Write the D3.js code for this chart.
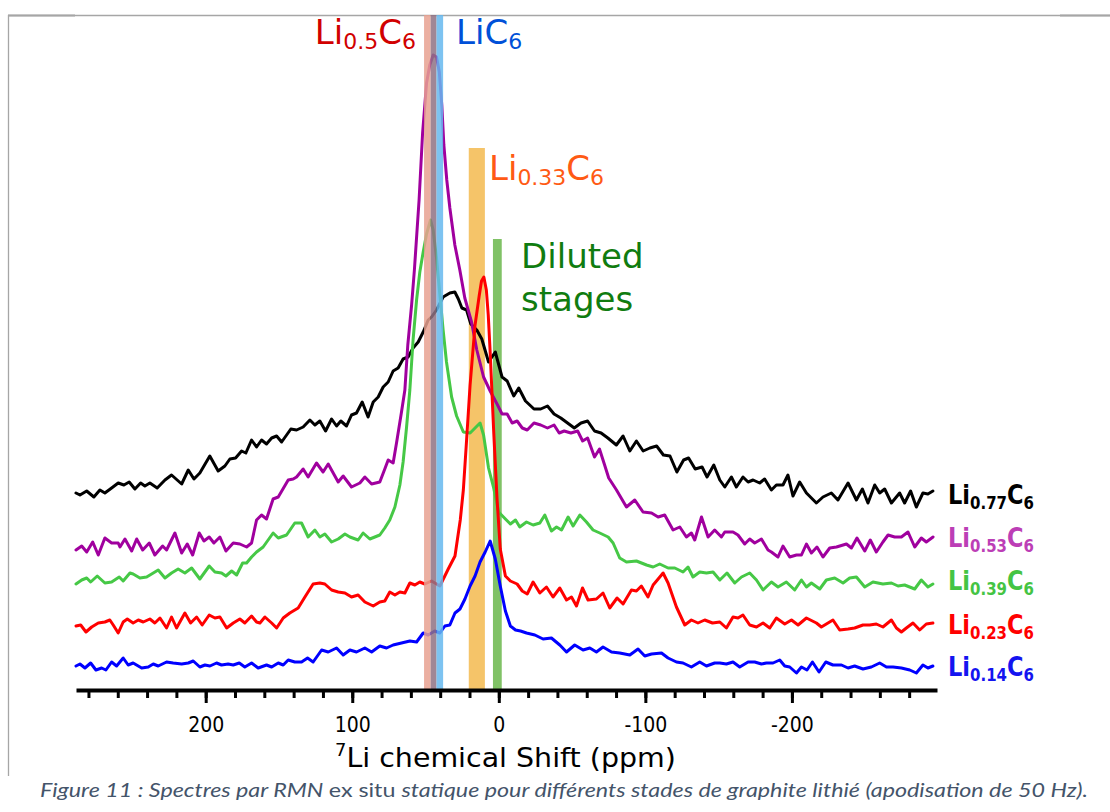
<!DOCTYPE html>
<html><head><meta charset="utf-8">
<script src="https://cdn.jsdelivr.net/npm/d3@7"></script>
<style>body{margin:0;background:#fff}svg{display:block}</style>
</head><body>
<svg id="chart" width="1110" height="812"></svg>
<script>
// ---------------- data ----------------
const shiftDomain = [288.5, -299];          // ppm, left to right
const intensityDomain = [0, 650];           // arbitrary units (stacked)
const minorTickValues = d3.range(280, -281, -20);
const majorTickValues = [200, 100, 0, -100, -200];

const seriesNames = ["Li0.77C6", "Li0.53C6", "Li0.39C6", "Li0.23C6", "Li0.14C6"];
const labelParts = [
  [["Li",0],["0.77",1],["C",0],["6",1]],
  [["Li",0],["0.53",1],["C",0],["6",1]],
  [["Li",0],["0.39",1],["C",0],["6",1]],
  [["Li",0],["0.23",1],["C",0],["6",1]],
  [["Li",0],["0.14",1],["C",0],["6",1]]
];

// [shift ppm, intensity]
const li077 = [[288.5,197],[285.8,195],[281.2,199],[276.3,193],[272.2,200],[268.8,197],[264.2,202],[259.7,207],[255.8,205],[252.2,208],[248.3,201],[244.4,207],[241.5,204],[238.1,207],[233.1,202],[227.8,210],[223.3,215],[216.4,206],[211.9,220],[208.0,211],[204.0,217],[197.2,234],[191.5,219],[186.9,224],[183.5,231],[179.6,232],[175.5,239],[172.6,237],[168.7,250],[165.3,243],[161.9,250],[158.5,246],[155.0,252],[151.6,254],[148.2,248],[144.8,255],[141.9,261],[138.0,260],[133.5,263],[128.9,270],[125.5,265],[122.1,269],[118.2,259],[114.1,271],[110.7,264],[107.8,269],[103.9,264],[100.5,275],[97.1,277],[93.2,288],[89.2,273],[85.7,288],[82.3,293],[78.9,303],[75.5,308],[72.1,319],[68.7,322],[65.3,331],[61.9,333],[58.5,342],[55.0,348],[51.6,358],[48.2,370],[45.9,373],[42.5,380],[38.0,393],[33.4,397],[30.0,398],[27.6,391],[25.2,382],[22.0,380],[19.1,366],[15.0,360],[11.6,351],[7.0,328],[2.4,338],[-2.2,313],[-5.7,309],[-10.2,294],[-13.6,302],[-18.2,289],[-24.0,281],[-28.6,281],[-33.2,284],[-37.7,276],[-42.3,272],[-46.9,267],[-51.5,262],[-56.1,267],[-60.6,269],[-65.3,259],[-69.8,257],[-74.4,252],[-80.2,245],[-84.8,254],[-89.4,239],[-93.9,249],[-98.5,239],[-103.1,242],[-107.7,244],[-112.3,235],[-116.8,234],[-121.5,218],[-126.1,230],[-129.5,232],[-134.0,221],[-138.7,223],[-142.1,213],[-146.7,225],[-150.8,210],[-154.2,203],[-158.7,213],[-162.1,203],[-166.6,213],[-170.1,208],[-173.5,210],[-178.0,207],[-181.4,211],[-186.0,200],[-189.4,205],[-193.9,205],[-197.3,215],[-200.7,194],[-205.3,208],[-209.9,197],[-216.7,187],[-221.2,193],[-226.9,197],[-231.4,190],[-238.3,207],[-244.0,190],[-248.1,201],[-251.9,187],[-256.5,205],[-259.9,197],[-263.3,201],[-267.9,187],[-273.5,197],[-276.9,187],[-281.0,199],[-284.9,183],[-289.4,197],[-292.8,196],[-296.2,199]];

const li053 = [[288.5,140],[284.6,144],[281.2,138],[277.1,148],[273.3,135],[268.8,152],[264.2,147],[259.7,147],[258.5,143],[255.1,151],[250.5,139],[247.1,151],[243.0,140],[238.5,147],[234.7,135],[229.4,144],[226.7,140],[221.0,157],[216.4,137],[212.6,146],[208.9,135],[204.4,157],[201.2,149],[197.6,153],[194.4,147],[190.3,153],[186.2,139],[181.2,147],[176.7,146],[172.1,143],[168.7,147],[165.3,170],[161.9,175],[158.5,171],[154.0,191],[150.5,193],[143.7,210],[140.3,211],[138.0,213],[133.5,221],[130.1,213],[124.4,227],[119.9,218],[116.4,226],[109.6,208],[106.2,214],[100.5,203],[94.8,207],[91.4,213],[86.8,206],[81.2,208],[77.8,221],[75.5,230],[72.1,227],[69.8,247],[66.4,278],[64.1,300],[62.1,345],[59.5,385],[57.6,420],[54.4,490],[52.0,557],[49.3,607],[47.1,625],[44.8,635],[42.5,633],[40.6,618],[38.9,585],[37.5,545],[35.5,510],[33.4,482],[30.0,445],[26.6,420],[23.2,392],[18.6,368],[15.0,340],[10.4,313],[5.9,299],[1.2,286],[-2.2,276],[-5.7,276],[-9.1,267],[-12.5,269],[-16.0,262],[-19.4,260],[-24.0,267],[-28.6,265],[-33.2,262],[-37.7,265],[-41.2,257],[-44.6,259],[-49.2,257],[-53.8,259],[-57.2,249],[-60.6,252],[-65.3,233],[-68.7,241],[-72.2,225],[-75.0,212],[-80.3,200],[-87.1,183],[-92.8,190],[-98.4,178],[-104.2,177],[-108.7,173],[-113.2,175],[-118.9,160],[-123.5,163],[-128.0,153],[-131.4,157],[-133.7,150],[-138.3,173],[-142.8,153],[-147.3,160],[-151.9,153],[-154.2,158],[-159.8,158],[-163.2,155],[-167.8,146],[-171.2,151],[-174.6,147],[-179.2,151],[-183.7,140],[-186.0,138],[-190.5,133],[-193.9,144],[-198.5,133],[-203.1,135],[-206.5,135],[-209.9,146],[-213.3,137],[-217.1,143],[-221.2,133],[-225.8,142],[-230.4,143],[-237.2,146],[-240.6,142],[-244.4,152],[-249.7,139],[-253.5,150],[-257.6,138],[-262.1,148],[-265.6,155],[-270.1,153],[-274.7,153],[-279.2,158],[-283.8,143],[-288.3,152],[-291.7,148],[-296.3,153]];

const li039 = [[288.5,106],[284.6,110],[281.2,112],[278.5,108],[274.0,114],[268.8,107],[264.2,108],[259.0,113],[256.3,109],[251.7,117],[249.5,116],[244.9,112],[240.3,113],[236.9,116],[232.4,120],[227.8,112],[223.3,117],[218.8,121],[214.2,117],[209.6,122],[204.0,111],[197.6,124],[193.7,118],[189.2,117],[186.2,114],[182.3,119],[178.9,115],[174.8,127],[172.1,127],[168.7,133],[165.3,138],[160.8,143],[154.0,157],[150.5,152],[144.8,155],[139.2,167],[134.6,167],[130.1,153],[125.5,160],[122.1,153],[118.7,156],[114.1,148],[109.6,151],[105.0,156],[101.6,153],[96.0,150],[92.6,157],[88.0,151],[81.2,155],[77.8,162],[74.4,170],[70.9,183],[67.5,205],[65.3,228],[63.0,262],[60.7,300],[58.5,350],[56.1,390],[53.9,418],[51.6,438],[49.3,456],[46.6,470],[44.8,460],[42.5,432],[40.2,395],[38.0,360],[35.7,328],[32.2,293],[28.8,274],[24.2,258],[19.6,257],[16.2,262],[12.8,267],[10.4,255],[7.0,222],[3.5,202],[0.1,178],[-4.5,171],[-7.9,166],[-11.4,170],[-14.3,163],[-18.9,168],[-23.4,165],[-28.0,167],[-31.4,175],[-35.9,159],[-39.4,163],[-42.8,160],[-47.3,173],[-50.7,164],[-55.3,175],[-59.8,168],[-64.3,160],[-68.9,157],[-74.6,153],[-78.0,147],[-82.5,132],[-87.1,128],[-93.9,129],[-100.8,125],[-105.3,123],[-109.8,126],[-115.5,122],[-120.1,122],[-125.7,118],[-129.1,123],[-132.5,113],[-137.1,118],[-141.7,117],[-146.2,118],[-150.8,110],[-155.7,117],[-161.0,107],[-165.6,113],[-171.2,117],[-175.8,110],[-180.3,100],[-186.0,108],[-190.5,103],[-196.2,108],[-201.9,100],[-206.5,110],[-209.9,103],[-213.3,107],[-219.0,101],[-223.5,110],[-229.2,112],[-234.9,107],[-239.4,112],[-244.0,113],[-249.7,103],[-255.3,108],[-262.1,106],[-267.9,107],[-272.4,104],[-276.9,105],[-283.8,101],[-288.3,110],[-292.8,103],[-296.2,106]];

const li023 = [[288.5,64],[285.3,65],[281.7,58],[277.8,63],[273.3,67],[268.8,68],[265.4,70],[263.1,65],[259.7,57],[256.3,68],[253.5,71],[249.5,67],[246.0,70],[242.6,68],[238.1,71],[234.7,67],[231.2,72],[226.7,62],[223.3,73],[219.9,62],[214.2,77],[210.3,67],[206.2,73],[202.4,65],[197.6,75],[193.7,72],[190.3,73],[185.7,62],[181.2,67],[176.7,71],[173.3,67],[168.7,74],[165.3,68],[163.0,67],[159.6,73],[155.0,67],[151.6,62],[147.1,72],[142.6,77],[136.9,82],[132.3,93],[126.7,106],[122.1,107],[118.7,106],[114.1,100],[109.6,98],[105.0,97],[100.5,93],[96.0,95],[91.4,88],[85.7,84],[81.2,88],[77.8,89],[74.4,98],[70.9,95],[67.5,98],[64.1,97],[60.7,107],[57.3,105],[53.9,108],[50.5,106],[45.9,109],[40.2,104],[34.5,121],[29.9,134],[26.3,170],[24.2,200],[22.2,245],[19.6,305],[16.2,365],[13.4,394],[11.8,409],[10.2,413],[8.5,400],[7.2,375],[5.9,338],[3.5,259],[1.2,191],[-1.0,141],[-4.5,114],[-7.9,109],[-12.5,106],[-16.0,99],[-19.4,96],[-23.4,108],[-28.0,97],[-32.5,103],[-37.0,93],[-41.6,102],[-46.2,90],[-49.6,93],[-53.0,84],[-57.1,102],[-60.9,90],[-66.6,91],[-71.1,97],[-75.7,82],[-80.7,92],[-84.8,86],[-90.5,100],[-93.9,99],[-97.3,104],[-101.8,93],[-105.3,105],[-109.3,112],[-112.1,117],[-115.5,107],[-121.2,83],[-126.9,65],[-131.4,70],[-135.9,67],[-140.5,70],[-145.8,67],[-150.8,68],[-155.3,62],[-159.8,73],[-163.2,72],[-166.6,75],[-171.2,65],[-175.8,63],[-180.3,67],[-184.9,62],[-189.4,72],[-195.1,66],[-199.7,70],[-204.2,65],[-209.9,72],[-216.7,67],[-220.1,63],[-223.5,66],[-228.0,70],[-232.6,60],[-238.3,61],[-242.8,62],[-248.5,65],[-253.1,65],[-257.6,66],[-262.1,63],[-267.9,70],[-271.3,62],[-274.7,58],[-278.1,62],[-282.6,67],[-287.2,60],[-291.7,66],[-296.2,67]];

const li014 = [[288.5,24],[285.8,26],[282.4,22],[278.5,27],[274.9,20],[271.0,22],[268.1,20],[264.2,28],[260.8,24],[256.3,32],[252.9,25],[249.5,27],[243.7,22],[239.2,23],[235.8,26],[232.4,24],[226.7,28],[222.2,27],[216.4,26],[211.9,27],[208.5,29],[204.0,23],[200.5,25],[197.1,24],[192.6,27],[189.2,25],[184.7,26],[181.2,25],[177.1,27],[173.3,23],[168.7,27],[164.2,22],[158.5,25],[155.0,23],[150.5,27],[147.1,25],[143.7,30],[139.2,28],[134.6,28],[130.5,32],[126.7,28],[120.9,40],[116.4,38],[110.7,42],[106.2,35],[101.6,40],[97.1,38],[91.4,42],[86.8,38],[81.2,44],[76.6,42],[72.1,45],[66.4,47],[60.7,49],[56.1,48],[51.6,57],[48.2,55],[43.7,59],[40.2,57],[36.8,64],[33.4,65],[29.9,77],[26.5,81],[23.1,91],[19.6,104],[16.2,114],[12.8,128],[9.3,138],[5.9,149],[2.4,131],[-1.0,104],[-4.5,79],[-7.9,64],[-11.4,60],[-14.8,59],[-18.9,57],[-24.6,55],[-30.2,51],[-35.9,52],[-41.6,45],[-46.2,38],[-51.8,45],[-57.5,40],[-62.1,42],[-66.6,38],[-71.1,43],[-76.9,38],[-82.5,37],[-89.4,35],[-95.0,41],[-99.6,34],[-104.2,36],[-111.0,37],[-115.5,32],[-121.2,28],[-125.7,27],[-131.4,23],[-137.1,28],[-141.7,24],[-147.3,27],[-150.8,27],[-155.3,26],[-159.8,28],[-164.4,23],[-170.1,28],[-174.6,28],[-179.2,26],[-182.6,27],[-187.1,27],[-191.7,30],[-195.1,24],[-198.5,23],[-203.1,17],[-206.5,23],[-210.3,20],[-214.0,28],[-218.5,18],[-223.1,28],[-228.0,25],[-233.8,25],[-238.3,22],[-242.8,24],[-248.5,21],[-254.2,23],[-259.9,27],[-264.5,23],[-269.0,23],[-274.7,22],[-280.4,20],[-284.9,17],[-289.4,25],[-292.8,22],[-296.2,24]];

const seriesData = [li077, li053, li039, li023, li014];
const lineColors  = ["#000000", "#A0009E", "#46C846", "#FF0000", "#0000FF"];
const labelColors = ["#000000", "#BC3EB6", "#44C444", "#FF0000", "#1414F0"];

// reference regions (ppm ranges) and their top (intensity units)
const bandNames  = ["Li0.33C6", "Diluted stages", "Li0.5C6", "Li0.5C6/LiC6", "LiC6"];
const bandRanges = [[20.5, 9.5], [4, -2], [51, 46.5], [46.5, 42.5], [42.5, 38]];
const bandTops   = [542, 451, 675, 675, 675];

// ---------------- drawing ----------------
const svg = d3.select("#chart");
const x = d3.scaleLinear().domain(shiftDomain).range([76, 937]);
const y = d3.scaleLinear().domain(intensityDomain).range([690, 40]);
const FONT = "'DejaVu Sans', Verdana, sans-serif";

// squeeze a text horizontally to a target width, keeping its anchor point
function fitWidth(t, target, ax) {
  const w = t.node().getComputedTextLength();
  const s = target / w;
  t.attr("transform", `translate(${ax},0) scale(${s},1) translate(${-ax},0)`);
}

// page frame
svg.append("line").attr("x1", 8).attr("x2", 1110).attr("y1", 15.5).attr("y2", 15.5)
  .attr("stroke", "#a6a6a6").attr("stroke-width", 1.3);
svg.append("line").attr("x1", 8).attr("x2", 75).attr("y1", 15.5).attr("y2", 15.5)
  .attr("stroke", "#a6a6a6").attr("stroke-width", 2.2);
svg.append("line").attr("x1", 1060).attr("x2", 1110).attr("y1", 15.5).attr("y2", 15.5)
  .attr("stroke", "#a6a6a6").attr("stroke-width", 2.2);
svg.append("line").attr("x1", 8.5).attr("x2", 8.5).attr("y1", 15).attr("y2", 776)
  .attr("stroke", "#a6a6a6").attr("stroke-width", 1.3);

function band(i, fill, opacity) {
  const r = bandRanges[i];
  svg.append("rect")
    .attr("x", x(r[0])).attr("width", x(r[1]) - x(r[0]))
    .attr("y", y(bandTops[i])).attr("height", y(0) - y(bandTops[i]))
    .attr("fill", fill).attr("fill-opacity", opacity);
}
// bands under the spectra
band(0, "#F5C469", 1);
band(1, "#80C266", 1);

// spectra
const line = d3.line().x(d => x(d[0])).y(d => y(d[1]));
seriesData.forEach((s, i) => {
  svg.append("path").datum(s).attr("d", line)
    .attr("fill", "none").attr("stroke", lineColors[i])
    .attr("stroke-width", 3).attr("stroke-linejoin", "round").attr("stroke-linecap", "round");
});

// bands over the spectra (semi-transparent)
band(2, "#E8A190", 0.85);
band(3, "#8F7284", 0.85);
band(4, "#66B9EE", 0.85);

// axis
const minorAxis = d3.axisBottom(x).tickValues(minorTickValues).tickSize(8).tickSizeOuter(0).tickFormat("");
const majorAxis = d3.axisBottom(x).tickValues(majorTickValues).tickSize(13).tickSizeOuter(0)
  .tickPadding(13).tickFormat(d => String(d));
const gMinor = svg.append("g").attr("transform", `translate(0,${y(0)})`).call(minorAxis);
gMinor.select(".domain").attr("stroke", "#000").attr("stroke-width", 4);
gMinor.selectAll(".tick line").attr("stroke", "#000").attr("stroke-width", 3);
const gMajor = svg.append("g").attr("transform", `translate(0,${y(0)})`).call(majorAxis);
gMajor.select(".domain").remove();
gMajor.selectAll(".tick line").attr("stroke", "#000").attr("stroke-width", 3);
gMajor.selectAll(".tick text").attr("font-family", FONT).attr("font-size", 22).attr("fill", "#000")
  .each(function () { fitWidth(d3.select(this), this.getComputedTextLength() * 0.86, 0); });

// axis title
const title = svg.append("text").attr("x", 335).attr("y", 767).attr("text-anchor", "start")
  .attr("font-family", FONT).attr("font-size", 27).attr("fill", "#000");
title.append("tspan").attr("font-size", 17).attr("dy", -11).text("7");
title.append("tspan").attr("dy", 11).text("Li chemical Shift (ppm)");
fitWidth(title, 341, 335);

// rich text helper with subscripts
function rich(px, py, parts, size, subSize, shift, weight, fill, anchor) {
  const t = svg.append("text").attr("x", px).attr("y", py)
    .attr("font-family", FONT).attr("font-size", size).attr("font-weight", weight)
    .attr("fill", fill).attr("text-anchor", anchor || "start");
  let cur = 0;
  parts.forEach(p => {
    const target = p[1] ? shift : 0;
    t.append("tspan").attr("dy", target - cur).attr("font-size", p[1] ? subSize : size).text(p[0]);
    cur = target;
  });
  return t;
}

// right-hand series labels
const labelBaselines = [504, 547, 590, 634, 676];
labelParts.forEach((p, i) => {
  const t = rich(948, labelBaselines[i], p, 27, 18, 5, "bold", labelColors[i]);
  fitWidth(t, 86, 948);
});

// reference annotations
rich(x(56.5), 44, [["Li",0],["0.5",1],["C",0],["6",1]], 34, 22, 5, "normal", "#D10000", "end");
rich(x(29.2), 44, [["Li",0],["C",0],["6",1]], 34, 22, 5, "normal", "#0050D8", "start");
rich(x(6.7), 180, [["Li",0],["0.33",1],["C",0],["6",1]], 34, 22, 5, "normal", "#FF5A14", "start");
svg.append("text").attr("x", x(-15.2)).attr("y", 268).attr("font-family", FONT)
  .attr("font-size", 34).attr("fill", "#107C10").text("Diluted");
svg.append("text").attr("x", x(-15.2)).attr("y", 311).attr("font-family", FONT)
  .attr("font-size", 34).attr("fill", "#107C10").text("stages");

// caption
const cap = svg.append("text").attr("x", 40).attr("y", 797)
  .attr("font-family", "Lato, 'Open Sans', sans-serif").attr("font-size", 19)
  .attr("fill", "#44546A").attr("textLength", 1048).attr("lengthAdjust", "spacingAndGlyphs");
cap.append("tspan").attr("font-style", "italic").text("Figure 11 : Spectres par RMN ");
cap.append("tspan").attr("font-style", "normal").text("ex situ ");
cap.append("tspan").attr("font-style", "italic").text("statique pour différents stades de graphite lithié (apodisation de 50 Hz).");
</script>
</body></html>
